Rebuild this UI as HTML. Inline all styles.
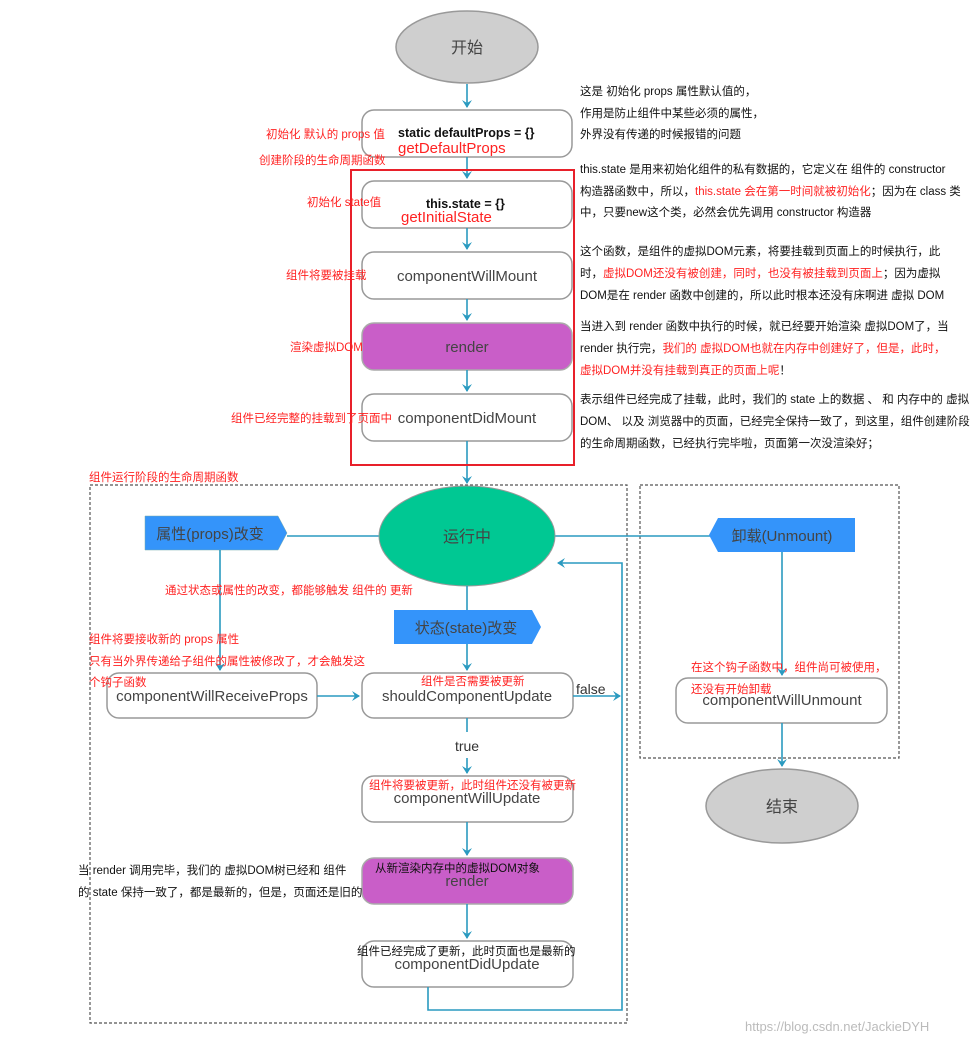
<!DOCTYPE html>
<html><head><meta charset="utf-8"><style>
html,body{margin:0;padding:0;background:#fff;}
svg{display:block;font-family:"Liberation Sans","Noto Sans CJK SC",sans-serif;}
.b{font-size:15px;fill:#444;text-anchor:middle;}
.r{font-size:11.5px;fill:#f22;}
.k{font-size:11.5px;fill:#111;}
.bx{fill:#fff;stroke:#999;stroke-width:1.5;}
.pu{fill:#c95ec8;stroke:#aaa;stroke-width:1.5;}
.ln{stroke:#2a9ac0;stroke-width:1.6;fill:none;}
.ar{fill:#2a9ac0;}
</style></head><body>
<svg width="976" height="1045" viewBox="0 0 976 1045">
<defs><marker id="a" markerWidth="10" markerHeight="10" refX="7" refY="5" orient="auto" markerUnits="userSpaceOnUse"><path d="M0,0 L8,5 L0,10 L3,5 Z" fill="#2a9ac0"/></marker></defs>
<!-- start -->
<ellipse cx="467" cy="47" rx="71" ry="36" fill="#cfcfcf" stroke="#999" stroke-width="1.5"/>
<text x="467" y="53" class="b" style="font-size:16px">开始</text>
<line class="ln" x1="467" y1="84" x2="467" y2="107" marker-end="url(#a)"/>
<rect class="bx" x="362" y="110" width="210" height="47" rx="12"/>
<line class="ln" x1="467" y1="157" x2="467" y2="178" marker-end="url(#a)"/>
<rect class="bx" x="362" y="181" width="210" height="47" rx="12"/>
<line class="ln" x1="467" y1="228" x2="467" y2="249" marker-end="url(#a)"/>
<rect class="bx" x="362" y="252" width="210" height="47" rx="12"/>
<line class="ln" x1="467" y1="299" x2="467" y2="320" marker-end="url(#a)"/>
<rect class="pu" x="362" y="323" width="210" height="47" rx="12"/>
<line class="ln" x1="467" y1="370" x2="467" y2="391" marker-end="url(#a)"/>
<rect class="bx" x="362" y="394" width="210" height="47" rx="12"/>
<line class="ln" x1="467" y1="441" x2="467" y2="483" marker-end="url(#a)"/>
<text x="398" y="137" style="font-size:12.5px;font-weight:bold;fill:#111">static defaultProps = {}</text>
<text x="398" y="153" style="font-size:15px;fill:#f22">getDefaultProps</text>
<text x="426" y="208" style="font-size:12.5px;font-weight:bold;fill:#111">this.state = {}</text>
<text x="401" y="222" style="font-size:15px;fill:#f22">getInitialState</text>
<text x="467" y="281" class="b">componentWillMount</text>
<text x="467" y="352" class="b">render</text>
<text x="467" y="423" class="b">componentDidMount</text>
<rect x="351" y="170" width="223" height="295" fill="none" stroke="#e8202a" stroke-width="2"/>
<!-- left red labels -->
<text x="266" y="138" class="r">初始化 默认的 props 值</text>
<text x="259" y="164" class="r">创建阶段的生命周期函数</text>
<text x="307" y="206" class="r">初始化 state值</text>
<text x="286" y="279" class="r">组件将要被挂载</text>
<text x="290" y="351" class="r">渲染虚拟DOM</text>
<text x="231" y="422" class="r">组件已经完整的挂载到了页面中</text>
<!-- right notes -->
<text x="580" y="95" class="k">这是 初始化 props 属性默认值的，</text>
<text x="580" y="117" class="k">作用是防止组件中某些必须的属性，</text>
<text x="580" y="138" class="k">外界没有传递的时候报错的问题</text>
<text x="580" y="173" class="k">this.state 是用来初始化组件的私有数据的，它定义在 组件的 constructor</text>
<text x="580" y="195" class="k">构造器函数中，所以，<tspan fill="#f22">this.state 会在第一时间就被初始化</tspan>；因为在 class 类</text>
<text x="580" y="216" class="k">中，只要new这个类，必然会优先调用 constructor 构造器</text>
<text x="580" y="255" class="k">这个函数，是组件的虚拟DOM元素，将要挂载到页面上的时候执行，此</text>
<text x="580" y="277" class="k">时，<tspan fill="#f22">虚拟DOM还没有被创建，同时，也没有被挂载到页面上</tspan>；因为虚拟</text>
<text x="580" y="299" class="k">DOM是在 render 函数中创建的，所以此时根本还没有床啊进 虚拟 DOM</text>
<text x="580" y="330" class="k">当进入到 render 函数中执行的时候，就已经要开始渲染 虚拟DOM了，当</text>
<text x="580" y="352" class="k">render 执行完，<tspan fill="#f22">我们的 虚拟DOM也就在内存中创建好了，但是，此时，</tspan></text>
<text x="580" y="374" class="k" fill="#f22"><tspan fill="#f22">虚拟DOM并没有挂载到真正的页面上呢</tspan>！</text>
<text x="580" y="403" class="k">表示组件已经完成了挂载，此时，我们的 state 上的数据 、 和 内存中的 虚拟</text>
<text x="580" y="425" class="k">DOM、 以及 浏览器中的页面，已经完全保持一致了，到这里，组件创建阶段</text>
<text x="580" y="447" class="k">的生命周期函数，已经执行完毕啦，页面第一次没渲染好；</text>
<!-- running section -->
<text x="89" y="481" class="r">组件运行阶段的生命周期函数</text>
<rect x="90" y="485" width="537" height="538" fill="none" stroke="#555" stroke-width="1.2" stroke-dasharray="3,2"/>
<rect x="640" y="485" width="259" height="273" fill="none" stroke="#555" stroke-width="1.2" stroke-dasharray="3,2"/>
<line class="ln" x1="287" y1="536" x2="380" y2="536"/>
<line class="ln" x1="555" y1="536" x2="710" y2="536"/>
<ellipse cx="467" cy="536" rx="88" ry="50" fill="#00c893" stroke="#999" stroke-width="1"/>
<text x="467" y="542" class="b" style="font-size:16px">运行中</text>
<polygon points="145,516 278,516 287,533 278,550 145,550" fill="#3494fa" stroke="#7aa" stroke-width="0.5"/>
<text x="210" y="539" class="b">属性(props)改变</text>
<line class="ln" x1="220" y1="550" x2="220" y2="670" marker-end="url(#a)"/>
<text x="165" y="594" class="r">通过状态或属性的改变，都能够触发 组件的 更新</text>
<line class="ln" x1="467" y1="586" x2="467" y2="610"/>
<polygon points="394,610 532,610 541,627 532,644 394,644" fill="#3494fa"/>
<text x="466" y="633" class="b">状态(state)改变</text>
<line class="ln" x1="467" y1="644" x2="467" y2="670" marker-end="url(#a)"/>
<rect class="bx" x="107" y="673" width="210" height="45" rx="12"/>
<text x="212" y="701" class="b">componentWillReceiveProps</text>
<text x="89" y="643" class="r">组件将要接收新的 props 属性</text>
<text x="89" y="665" class="r">只有当外界传递给子组件的属性被修改了，才会触发这</text>
<text x="89" y="686" class="r">个钩子函数</text>
<line class="ln" x1="317" y1="696" x2="359" y2="696" marker-end="url(#a)"/>
<rect class="bx" x="362" y="673" width="211" height="45" rx="12"/>
<text x="467" y="701" class="b">shouldComponentUpdate</text>
<text x="421" y="685" class="r">组件是否需要被更新</text>
<line class="ln" x1="573" y1="696" x2="620" y2="696" marker-end="url(#a)"/>
<text x="576" y="694" style="font-size:14px;fill:#333">false</text>
<line class="ln" x1="467" y1="718" x2="467" y2="732"/>
<text x="467" y="751" class="b" style="font-size:14px;fill:#333">true</text>
<line class="ln" x1="467" y1="758" x2="467" y2="773" marker-end="url(#a)"/>
<rect class="bx" x="362" y="776" width="211" height="46" rx="12"/>
<text x="369" y="789" class="r">组件将要被更新，此时组件还没有被更新</text>
<text x="467" y="803" class="b">componentWillUpdate</text>
<line class="ln" x1="467" y1="822" x2="467" y2="855" marker-end="url(#a)"/>
<rect class="pu" x="362" y="858" width="211" height="46" rx="12"/>
<text x="375" y="872" style="font-size:11.5px;fill:#111">从新渲染内存中的虚拟DOM对象</text>
<text x="467" y="886" class="b">render</text>
<text x="78" y="874" class="k">当 render 调用完毕，我们的 虚拟DOM树已经和 组件</text>
<text x="78" y="896" class="k">的 state 保持一致了，都是最新的，但是，页面还是旧的</text>
<line class="ln" x1="467" y1="904" x2="467" y2="938" marker-end="url(#a)"/>
<rect class="bx" x="362" y="941" width="211" height="46" rx="12"/>
<text x="357" y="955" style="font-size:11.5px;fill:#111">组件已经完成了更新，此时页面也是最新的</text>
<text x="467" y="969" class="b">componentDidUpdate</text>
<path class="ln" d="M428,987 L428,1010 L622,1010 L622,563 L558,563" marker-end="url(#a)"/>
<!-- unmount -->
<polygon points="709,535 718,518 855,518 855,552 718,552" fill="#3494fa"/>
<text x="782" y="541" class="b">卸载(Unmount)</text>
<line class="ln" x1="782" y1="552" x2="782" y2="675" marker-end="url(#a)"/>
<rect class="bx" x="676" y="678" width="211" height="45" rx="12"/>
<text x="782" y="705" class="b">componentWillUnmount</text>
<text x="691" y="671" class="r">在这个钩子函数中，组件尚可被使用，</text>
<text x="691" y="693" class="r">还没有开始卸载</text>
<line class="ln" x1="782" y1="723" x2="782" y2="766" marker-end="url(#a)"/>
<ellipse cx="782" cy="806" rx="76" ry="37" fill="#cfcfcf" stroke="#999" stroke-width="1.5"/>
<text x="782" y="812" class="b" style="font-size:16px">结束</text>
<text x="745" y="1031" style="font-size:13px;fill:#bbb">https://blog.csdn.net/JackieDYH</text>
</svg>
</body></html>
